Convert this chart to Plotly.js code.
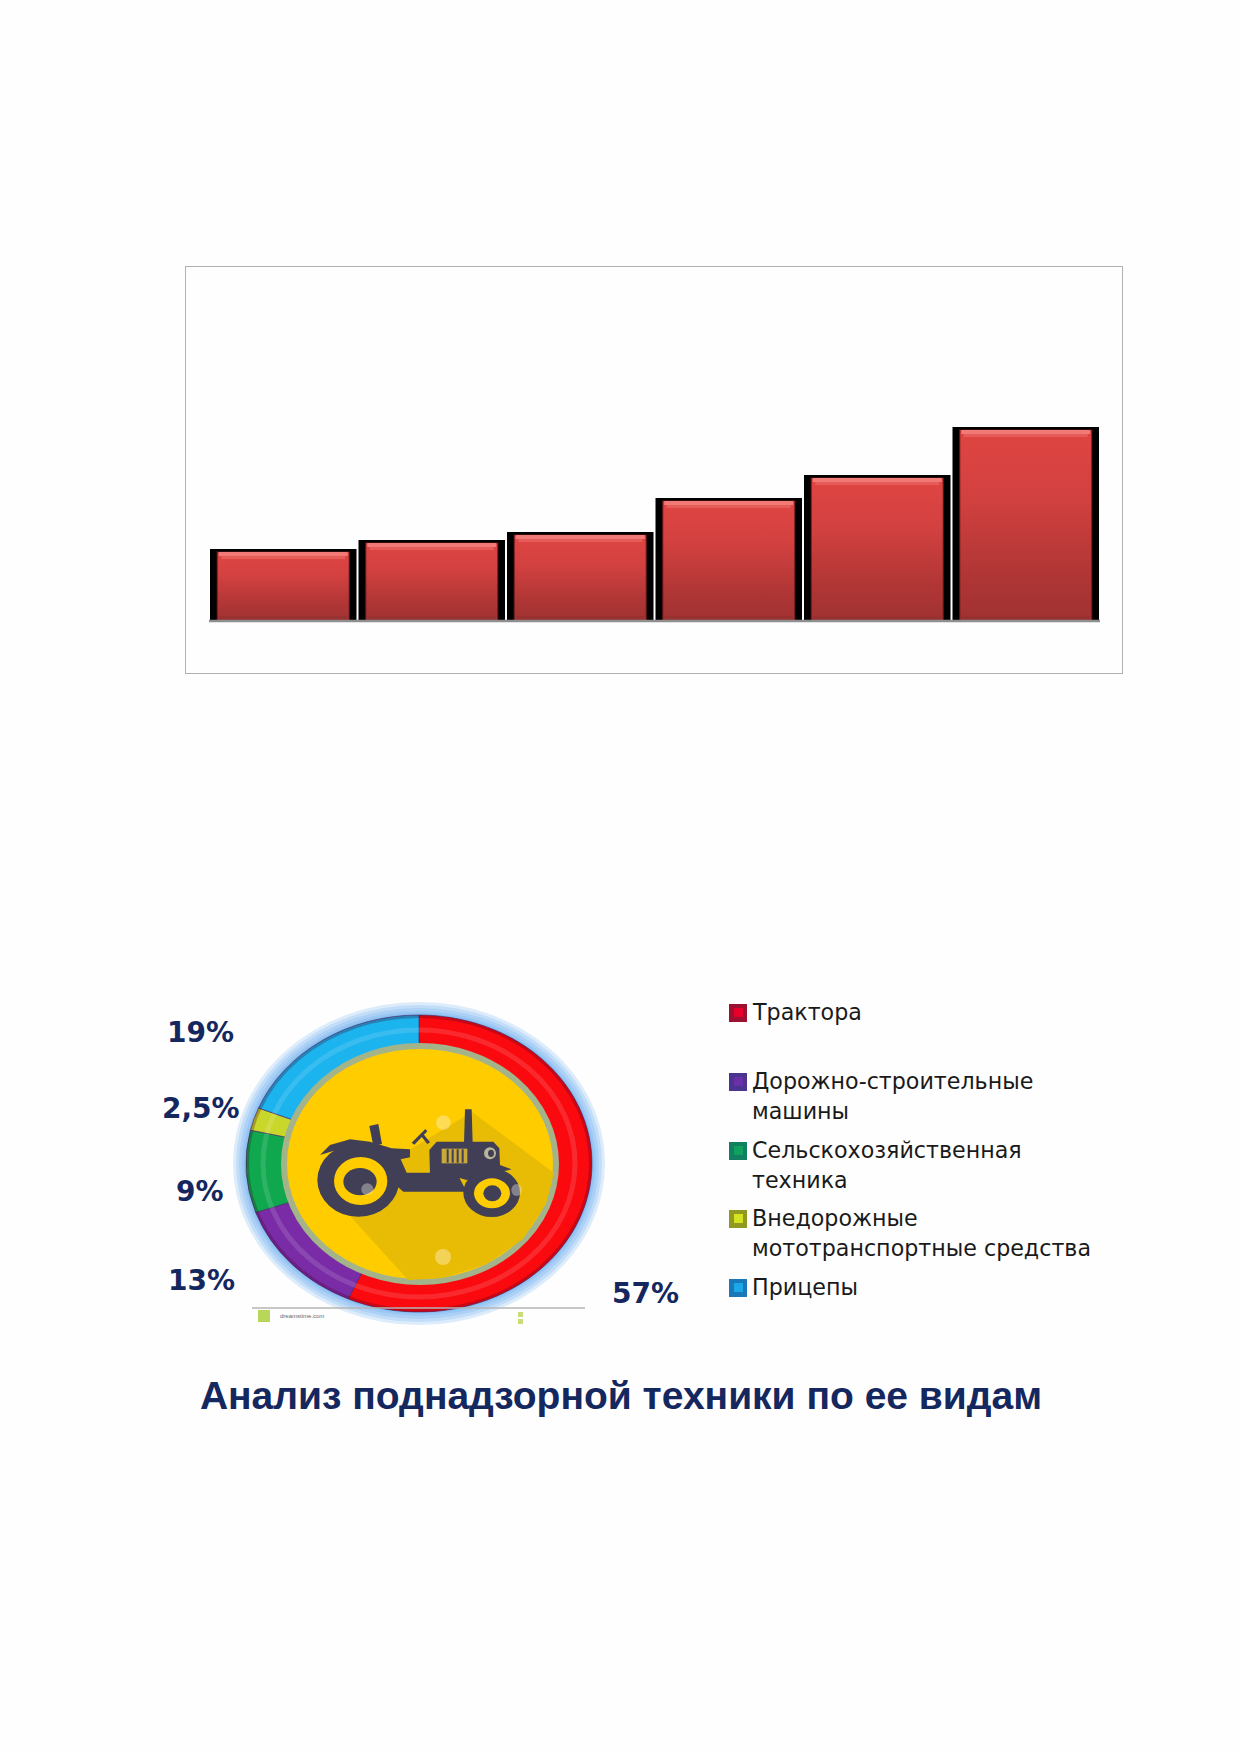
<!DOCTYPE html>
<html><head><meta charset="utf-8">
<script src="https://cdn.plot.ly/plotly-3.0.1.min.js"></script>
<style>html,body{margin:0;padding:0;background:#fefefe}</style>
</head><body><div id="chart" style="width:1239px;height:1752px"></div>
<script>
// ---- data ----
const barCategories = [1, 2, 3, 4, 5, 6];
const barValues = [72, 81, 89, 123, 146, 194];
const pieLabels = ["Трактора", "Дорожно-строительные машины", "Сельскохозяйственная техника", "Внедорожные мототранспортные средства", "Прицепы"];
const pieValues = [57, 13, 9, 2.5, 19];
const pieColors = ["#FA0A0F", "#7A2CA6", "#0FA84E", "#C9D62A", "#1CB4EE"];
const pieTexts = ["57%", "13%", "9%", "2,5%", "19%"];
const pieTextPos = [[645, 1293], [201, 1280], [200, 1191], [201, 1108], [200, 1032]];
const legendLines = [["Трактора"], ["Дорожно-строительные", "машины"], ["Сельскохозяйственная", "техника"], ["Внедорожные", "мототранспортные средства"], ["Прицепы"]];
const legendY = [1013, 1082, 1151, 1219, 1288];
const swatchOuter = ["#9E1030", "#4A3490", "#108060", "#909A20", "#1878B8"];
const swatchInner = ["#E8002A", "#6A30A8", "#10A060", "#D4E420", "#1CA8E8"];
const titleText = "Анализ поднадзорной техники по ее видам";

// ---- page geometry helpers ----
const W = 1239, H = 1752;
const X = p => p / W, Y = p => 1 - p / H;
const frame = {l: 186, r: 1122, t: 267, b: 673};
const unitX = 148.5, firstCenter = 283.25, zeroY = 621;
const cx = 419, cy = 1163.5, rx = 173, ry = 148.5;
const tx = x => 310 + x / 3, ty = y => 1100 + y / 3;

const shapes = [], annotations = [];
const ell = (ex, ey, erx, ery, fill, line, lw, layer) => shapes.push({type: "circle", xref: "paper", yref: "paper",
  x0: X(ex - erx), x1: X(ex + erx), y0: Y(ey + ery), y1: Y(ey - ery), fillcolor: fill, layer: layer || "above",
  line: {color: line || "rgba(0,0,0,0)", width: lw || 0}});
const rect = (x0, y0, x1, y1, fill) => shapes.push({type: "rect", xref: "paper", yref: "paper", x0: X(x0), x1: X(x1), y0: Y(y1), y1: Y(y0), fillcolor: fill, line: {width: 0}, layer: "above"});
const polyPx = (pts, fill) => shapes.push({type: "path", xref: "paper", yref: "paper",
  path: pts.map((p, i) => (i ? "L" : "M") + X(p[0]).toFixed(5) + "," + Y(p[1]).toFixed(5)).join(" ") + " Z", fillcolor: fill, line: {width: 0}, layer: "above"});
const poly = (pts, fill) => polyPx(pts.map(p => [tx(p[0]), ty(p[1])]), fill);
const tell = (x, y, a, b, fill) => ell(tx(x), ty(y), a / 3, b / 3, fill);

// baseline of the bars
shapes.push({type: "line", xref: "x", yref: "y", x0: -0.5, x1: 5.5, y0: 0, y1: 0, line: {color: "#8f8f8f", width: 2.5}, layer: "above"});

// halo round the ring
[13, 10, 7, 4, 2].forEach(d => ell(cx, cy, rx + d, ry + d, "rgba(90,165,240,0.2)", null, 0, "below"));

// ring shading
ell(cx, cy, rx - 1.5, ry - 1.5, "rgba(0,0,0,0)", "rgba(70,0,40,0.28)", 3);
ell(cx, cy, rx - 17, ry - 15, "rgba(0,0,0,0)", "rgba(255,255,255,0.13)", 5);

// inner disc with the long shadow
ell(cx + 1, cy + 0.5, 136, 118, "#FFCC00", "#A3B48A", 6);
polyPx([[472, 1112], [554, 1173], [546, 1204], [523, 1239], [487, 1264], [443, 1278], [408, 1280], [351, 1217], [360, 1180]], "#E8BC04");

// watermark spots
tell(400, 68, 22, 22, "rgba(255,240,190,0.45)");
ell(443, 1257, 8, 8, "rgba(255,240,190,0.45)");

// tractor silhouette
const dark = "#403F55", yel = "#FFCC00";
poly([[465, 28], [485, 28], [488, 130], [462, 130]], dark);
poly([[178, 78], [205, 72], [216, 132], [190, 138]], dark);
poly([[30, 165], [60, 135], [120, 118], [180, 125], [245, 145], [300, 148], [300, 172], [272, 178], [290, 218], [440, 218], [470, 275], [280, 275], [240, 240], [160, 150], [80, 150]], dark);
poly([[358, 150], [380, 125], [550, 125], [568, 145], [570, 195], [605, 208], [560, 218], [470, 240], [440, 232], [360, 225]], dark);
poly([[305, 128], [346, 87], [352, 94], [313, 134]], dark);
poly([[333, 108], [340, 102], [360, 127], [352, 132]], dark);
rect(tx(395), ty(146), tx(472), ty(190), "#C9A93A");
[410, 425, 440, 455].forEach(x => rect(tx(x), ty(148), tx(x + 6), ty(188), dark));
tell(540, 160, 18, 18, "#B8B59A");
tell(543, 160, 9, 11, dark);
tell(145, 240, 123, 110, dark);
tell(152, 243, 80, 72, yel);
tell(150, 245, 50, 41, dark);
tell(545, 278, 85, 73, dark);
tell(546, 280, 54, 45, yel);
tell(547, 280, 27, 24, dark);
tell(172, 268, 18, 18, "rgba(235,235,220,0.4)");
tell(620, 270, 16, 18, "rgba(235,235,220,0.4)");

// stock-photo footer under the ring
shapes.push({type: "line", xref: "paper", yref: "paper", x0: X(252), x1: X(585), y0: Y(1308), y1: Y(1308), line: {color: "#B5B5B5", width: 1.5}, layer: "above"});
rect(258, 1310, 270, 1322, "#B8D65A");
rect(518, 1312, 523, 1317, "#C8DC78");
rect(518, 1319, 523, 1324, "#C8DC78");
annotations.push({xref: "paper", yref: "paper", x: X(278), y: Y(1316), xanchor: "left", yanchor: "middle", showarrow: false, text: "dreamstime.com", font: {family: "Liberation Sans", size: 6, color: "#666"}});

// percentage labels
pieTexts.forEach((t, i) => annotations.push({xref: "paper", yref: "paper", x: X(pieTextPos[i][0]), y: Y(pieTextPos[i][1]), xanchor: "center", yanchor: "middle", showarrow: false, text: t,
  font: {family: "DejaVu Sans", weight: 700, size: 28, color: "#15275F"}}));

// legend
legendLines.forEach((lines, i) => {
  rect(729, legendY[i] - 9, 747, legendY[i] + 9, swatchOuter[i]);
  rect(734, legendY[i] - 5, 743, legendY[i] + 4, swatchInner[i]);
  lines.forEach((l, j) => annotations.push({xref: "paper", yref: "paper", x: X(750), y: Y(legendY[i] - 1 + j * 30), xanchor: "left", yanchor: "middle", showarrow: false, text: l,
    font: {family: "DejaVu Sans", size: 22.2, color: "#1A1A1A"}}));
});

// ---- bars: black frame, red face, bevels ----
const barX = barCategories.map(c => c - 1);
const barBlack = {type: "bar", x: barX, y: barValues, width: 146.5 / unitX, marker: {color: "#000000", line: {width: 0}}};
const barRed = {type: "bar", x: barX, y: barValues.map(v => v - 3), width: 132 / unitX, marker: {color: "#C23B3A", line: {color: "rgba(110,25,25,0.6)", width: 1.5}}};
const barLight1 = {type: "bar", x: barX, base: barValues.map(v => v - 7), y: barValues.map(() => 4), width: 129 / unitX, marker: {color: "#F27A76", line: {width: 0}}};
const barLight2 = {type: "bar", x: barX, base: barValues.map(v => v - 10), y: barValues.map(() => 3), width: 124 / unitX, marker: {color: "#E65C58", line: {width: 0}}};
const barFoot = {type: "bar", x: barX, y: barValues.map(() => 5), width: 128 / unitX, marker: {color: "#8F2F2F", opacity: 0.55, line: {width: 0}}};
const donut = {type: "pie", labels: pieLabels, values: pieValues, sort: false, direction: "clockwise", rotation: 0, hole: 0.78, textinfo: "none", showlegend: false,
  marker: {colors: pieColors, line: {color: "#4A2A6A", width: 0.7}},
  domain: {x: [X(cx - rx), X(cx + rx)], y: [Y(cy + rx), Y(cy - rx)]}};

const layout = {
  width: W, height: H, margin: {l: 0, r: 0, t: 0, b: 0, pad: 0}, paper_bgcolor: "#FEFEFE", plot_bgcolor: "#FEFEFE", showlegend: false, barmode: "overlay",
  title: {text: titleText, x: 621 / W, y: Y(1395), xref: "paper", yref: "paper", xanchor: "center", yanchor: "middle", font: {family: "Liberation Sans", weight: 700, size: 39, color: "#15275F"}},
  xaxis: {domain: [X(frame.l), X(frame.r)], range: [-(firstCenter - frame.l) / unitX, (frame.r - firstCenter) / unitX], showticklabels: false, ticks: "", showgrid: false, zeroline: false, showline: true, mirror: true, linecolor: "#B0B0B0", linewidth: 1, fixedrange: true},
  yaxis: {domain: [Y(frame.b), Y(frame.t)], range: [zeroY - frame.b, zeroY - frame.t], showticklabels: false, ticks: "", showgrid: false, zeroline: false, showline: true, mirror: true, linecolor: "#B0B0B0", linewidth: 1, fixedrange: true},
  shapes, annotations
};

Plotly.newPlot("chart", [barBlack, barRed, barLight1, barLight2, barFoot, donut], layout, {displayModeBar: false, staticPlot: true}).then(gd => {
  const NS = "http://www.w3.org/2000/svg";
  const svg = gd.querySelector(".main-svg");
  const defs = svg.querySelector("defs");
  const g = document.createElementNS(NS, "linearGradient");
  g.setAttribute("id", "barFace"); g.setAttribute("x1", 0); g.setAttribute("x2", 0); g.setAttribute("y1", 0); g.setAttribute("y2", 1);
  [[0, "#DF4542"], [0.35, "#D24140"], [0.75, "#B03635"], [1, "#A03232"]].forEach(s => {
    const e = document.createElementNS(NS, "stop"); e.setAttribute("offset", s[0]); e.setAttribute("stop-color", s[1]); g.appendChild(e);
  });
  defs.appendChild(g);
  gd.querySelectorAll(".barlayer .trace")[1].querySelectorAll("path").forEach(p => p.style.fill = "url(#barFace)");
  gd.querySelector(".pielayer").setAttribute("transform", `translate(${cx},${cy}) scale(1,${ry / rx}) translate(${-cx},${-cy})`);
});
</script>
</body></html>
